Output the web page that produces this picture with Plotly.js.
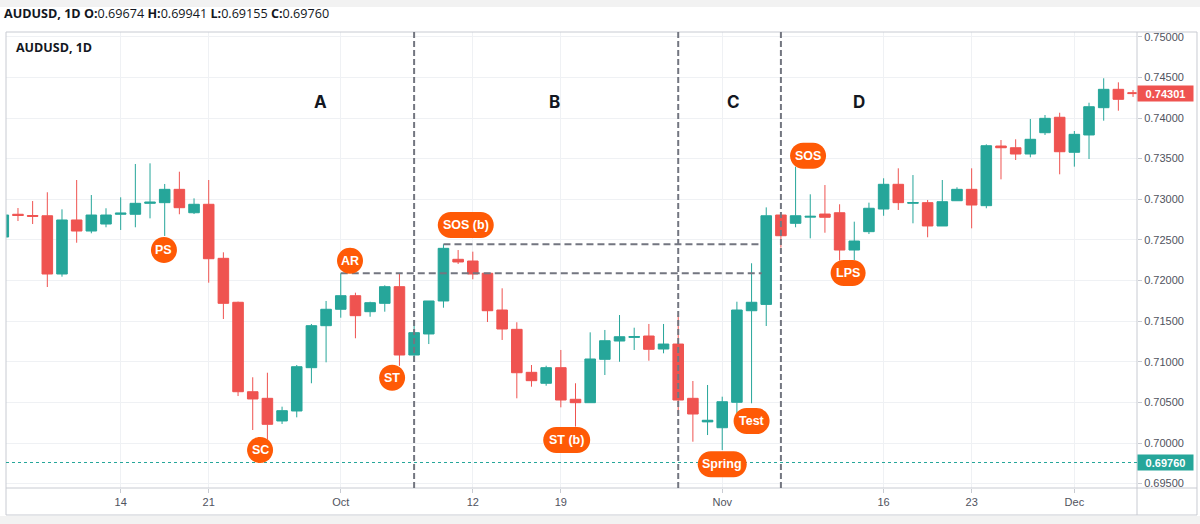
<!DOCTYPE html>
<html>
<head>
<meta charset="utf-8">
<script src="https://cdn.plot.ly/plotly-3.0.1.min.js"></script>
<style>
  html, body { margin: 0; padding: 0; background: #ffffff; }
  #chart { width: 1200px; height: 524px; }
</style>
</head>
<body>
<div id="chart"></div>
<script>
// ---- Data ----
const barIndex = Array.from({length: 78}, (_, i) => i);
const openVals = [
  0.72535,0.72815,0.72800,0.72797,0.72080,0.72745,0.72609,0.72695,0.72815,0.72815,
  0.72950,0.72958,0.73122,0.72834,0.72938,0.72273,0.71732,0.70631,0.70550,0.70271,
  0.70394,0.70927,0.71444,0.71646,0.71813,0.71616,0.71719,0.71924,0.71083,0.71342,
  0.71748,0.72261,0.72240,0.72089,0.71637,0.71399,0.70870,0.70735,0.70927,0.70538,
  0.70496,0.71030,0.71255,0.71300,0.71317,0.71157,0.71218,0.70550,0.70260,0.70188,
  0.70501,0.71628,0.71706,0.72806,0.72704,0.72780,0.72818,0.72834,0.72375,0.72601,
  0.72880,0.73184,0.72950,0.72958,0.72671,0.72982,0.73122,0.72921,0.73655,0.73634,
  0.73557,0.73819,0.74009,0.73578,0.73791,0.74127,0.74353,0.74312
];
const highVals = [
  0.72830,0.72892,0.72978,0.73086,0.72876,0.73237,0.73052,0.72889,0.73024,0.73434,
  0.73442,0.73188,0.73339,0.73011,0.73237,0.72347,0.71740,0.70809,0.70865,0.70447,
  0.70960,0.71465,0.71748,0.72089,0.71850,0.71739,0.71941,0.72089,0.71514,0.71748,
  0.72446,0.72375,0.72355,0.72089,0.71904,0.71486,0.70960,0.70951,0.71145,0.70735,
  0.71362,0.71391,0.71575,0.71419,0.71465,0.71465,0.71575,0.70763,0.70714,0.70570,
  0.71739,0.72212,0.72900,0.72806,0.73401,0.73061,0.73175,0.72938,0.72724,0.72958,
  0.73258,0.73381,0.73298,0.72991,0.73237,0.73147,0.73381,0.73676,0.73729,0.73738,
  0.73988,0.74037,0.74065,0.73840,0.74188,0.74489,0.74439,0.74345
];
const lowVals = [
  0.72480,0.72732,0.72695,0.71920,0.72047,0.72465,0.72581,0.72655,0.72622,0.72655,
  0.72765,0.72548,0.72815,0.72818,0.71973,0.71526,0.70578,0.70160,0.70040,0.70234,
  0.70316,0.70735,0.70993,0.71542,0.71289,0.71554,0.71616,0.70950,0.71000,0.71218,
  0.71665,0.72203,0.72015,0.71489,0.71268,0.70550,0.70693,0.70705,0.70439,0.70201,
  0.70496,0.70837,0.71000,0.71145,0.71013,0.71104,0.70366,0.70016,0.70098,0.69914,
  0.70366,0.70489,0.71440,0.72404,0.72655,0.72519,0.72588,0.72244,0.72252,0.72572,
  0.72797,0.72868,0.72704,0.72532,0.72671,0.72982,0.72642,0.72889,0.73245,0.73483,
  0.73516,0.73791,0.73307,0.73401,0.73495,0.73967,0.74090,0.74260
];
const closeVals = [
  0.72806,0.72800,0.72790,0.72080,0.72745,0.72609,0.72806,0.72806,0.72830,0.72950,
  0.72965,0.73122,0.72896,0.72938,0.72268,0.71719,0.70631,0.70542,0.70230,0.70398,
  0.70939,0.71444,0.71646,0.71813,0.71567,0.71727,0.71924,0.71083,0.71358,0.71748,
  0.72396,0.72228,0.72080,0.71628,0.71403,0.70865,0.70767,0.70927,0.70529,0.70496,
  0.71034,0.71259,0.71308,0.71310,0.71153,0.71218,0.70529,0.70357,0.70280,0.70508,
  0.71637,0.71732,0.72797,0.72551,0.72797,0.72790,0.72778,0.72375,0.72486,0.72889,
  0.73184,0.72958,0.72960,0.72671,0.72970,0.73122,0.72929,0.73659,0.73634,0.73557,
  0.73738,0.73996,0.73585,0.73799,0.74139,0.74353,0.74230,0.74301
];

// x-axis ticks (bar index -> label)
const tickIndex = [8, 14, 23, 32, 38, 49, 60, 66, 73];
const tickLabels = ["14", "21", "Oct", "12", "19", "Nov", "16", "23", "Dec"];

// price axis ticks
const priceTicks = [0.695,0.700,0.705,0.710,0.715,0.720,0.725,0.730,0.735,0.740,0.745,0.750];

// Wyckoff phases
const phaseBounds = [28, 46, 53];
const phaseLetters = ["A", "B", "C", "D"];
const phaseLetterX = [21.64, 37.6, 49.8, 58.33];
const phaseLetterY = 0.74197;

// horizontal levels: AR high and SOS(b) high
const levelValues = [0.72089, 0.72446];
const levelStart = [23, 30];
const levelEnd = [51.7, 51.7];

// event labels
const eventText = ["PS", "AR", "SC", "ST", "SOS (b)", "ST (b)", "Spring", "Test", "SOS", "LPS"];
const eventX = [10.95, 23.63, 17.5, 26.5, 31.52, 38.4, 49.0, 51.0, 54.85, 57.58];
const eventY = [0.72375, 0.72244, 0.69914, 0.70804, 0.72683, 0.70037, 0.69738, 0.70271, 0.73536, 0.72092];
const eventW = [26, 26, 26, 26, 56, 47, 49, 36, 36, 35];

// header / price markers
const symbolText = "AUDUSD, 1D";
const ohlcText = ["O:", "0.69674", "H:", "0.69941", "L:", "0.69155", "C:", "0.69760"];
const lastPrice = 0.74301;
const markPrice = 0.69760;

// ---- Styles ----
const UP = "#26a69a", DOWN = "#ef5350", ORANGE = "#ff5a06";
const GRID = "#eff1f4", BORDER = "#c8cbd2", AXTXT = "#50535e";

function pillPath(w, h) {
  const r = h / 2, k = 0.5523 * r;
  const a = w / 2 - r;
  if (a <= 0) {
    return `M ${-r},0 C ${-r},${k} ${-k},${r} 0,${r} C ${k},${r} ${r},${k} ${r},0 C ${r},${-k} ${k},${-r} 0,${-r} C ${-k},${-r} ${-r},${-k} ${-r},0 Z`;
  }
  return `M ${-a},${-r} L ${a},${-r} C ${a + k},${-r} ${w/2},${-k} ${w/2},0 C ${w/2},${k} ${a + k},${r} ${a},${r} ` +
         `L ${-a},${r} C ${-a - k},${r} ${-w/2},${k} ${-w/2},0 C ${-w/2},${-k} ${-a - k},${-r} ${-a},${-r} Z`;
}

const shapes = [];
const annotations = [];

// page strips (top and bottom gray bands)
shapes.push({type: "rect", xref: "paper", yref: "paper", x0: -0.01, x1: 1.06, y0: 1.0548, y1: 1.08,
  fillcolor: "#f2f2f2", line: {width: 0}, layer: "below"});
shapes.push({type: "rect", xref: "paper", yref: "paper", x0: -0.01, x1: 1.06, y0: -0.0614, y1: -0.09,
  fillcolor: "#f2f2f2", line: {width: 0}, layer: "below"});
// outer frame
shapes.push({type: "rect", xref: "paper", yref: "paper", x0: 0, x1: 1.05305, y0: -0.05921, y1: 1,
  line: {color: BORDER, width: 1}, fillcolor: "rgba(0,0,0,0)"});
// separators
shapes.push({type: "line", xref: "paper", yref: "paper", x0: 1, x1: 1, y0: -0.05921, y1: 1,
  line: {color: BORDER, width: 1}});
shapes.push({type: "line", xref: "paper", yref: "paper", x0: 0, x1: 1.05305, y0: 0, y1: 0,
  line: {color: BORDER, width: 1}});

// mark price dotted line
shapes.push({type: "line", xref: "paper", yref: "y", x0: 0, x1: 1, y0: markPrice, y1: markPrice,
  line: {color: UP, width: 1, dash: "dot"}});

// phase boundary dashed lines
phaseBounds.forEach(b => shapes.push({type: "line", xref: "x", yref: "paper", x0: b, x1: b, y0: 0, y1: 1,
  line: {color: "#737680", width: 2, dash: "6px,3px"}}));
// level lines
levelValues.forEach((v, i) => shapes.push({type: "line", xref: "x", yref: "y",
  x0: levelStart[i], x1: levelEnd[i], y0: v, y1: v,
  line: {color: "#737680", width: 2, dash: "7px,4px"}}));

// event pills
eventText.forEach((t, i) => {
  shapes.push({type: "path", xref: "x", yref: "y", xsizemode: "pixel", ysizemode: "pixel",
    xanchor: eventX[i], yanchor: eventY[i], path: pillPath(eventW[i], 26),
    fillcolor: ORANGE, line: {width: 0}});
  annotations.push({x: eventX[i], y: eventY[i], xref: "x", yref: "y", text: "<b>" + t + "</b>",
    showarrow: false, font: {family: "Liberation Sans, Arial, sans-serif", size: 12.5, color: "#ffffff"}});
});

// phase letters
phaseLetters.forEach((t, i) => annotations.push({x: phaseLetterX[i], y: phaseLetterY, xref: "x", yref: "y",
  text: "<b>" + t + "</b>", showarrow: false,
  font: {family: "Inter, Liberation Sans, sans-serif", size: 17, color: "#131722"}}));

// header
let hdr = "<b>" + symbolText + "</b>";
for (let i = 0; i < ohlcText.length; i += 2) hdr += " <b>" + ohlcText[i] + "</b>" + ohlcText[i + 1];
annotations.push({xref: "paper", yref: "paper", x: -0.0035, y: 1.0395, xanchor: "left", yanchor: "middle",
  text: hdr, showarrow: false, font: {family: "Open Sans, Noto Sans, sans-serif", size: 12.6, color: "#131722"}});
annotations.push({xref: "paper", yref: "paper", x: 0.0075, y: 0.9665, xanchor: "left", yanchor: "middle",
  text: "<b>" + symbolText + "</b>", showarrow: false,
  font: {family: "Open Sans, Noto Sans, sans-serif", size: 12.5, color: "#131722"}});

// price boxes on the axis
[[lastPrice, DOWN], [markPrice, UP]].forEach(([p, c]) => annotations.push({
  xref: "paper", yref: "y", x: 1, y: p, xanchor: "left", yanchor: "middle",
  text: "<b>" + p.toFixed(5) + "</b>", showarrow: false, bgcolor: c, width: 53, height: 13, borderpad: 1,
  align: "center", font: {family: "Liberation Sans, Arial, sans-serif", size: 11, color: "#ffffff"}}));

const trace = {
  type: "candlestick",
  x: barIndex, open: openVals, high: highVals, low: lowVals, close: closeVals,
  increasing: {line: {color: UP, width: 1}, fillcolor: UP},
  decreasing: {line: {color: DOWN, width: 1}, fillcolor: DOWN},
  whiskerwidth: 0,
  hoverinfo: "skip", showlegend: false
};

const layout = {
  width: 1200, height: 524,
  margin: {l: 6, r: 63, t: 32, b: 36, pad: 0},
  paper_bgcolor: "#ffffff", plot_bgcolor: "#ffffff",
  showlegend: false, hovermode: false,
  boxgap: 0.28, boxgroupgap: 0,
  xaxis: {
    range: [0.184, 77.27], rangeslider: {visible: false},
    tickmode: "array", tickvals: tickIndex, ticktext: tickLabels,
    showgrid: true, gridcolor: GRID, gridwidth: 1, zeroline: false, showline: false,
    ticks: "outside", ticklen: 4, tickcolor: BORDER,
    tickfont: {family: "Liberation Sans, Arial, sans-serif", size: 11, color: AXTXT},
    fixedrange: true
  },
  yaxis: {
    range: [0.694462, 0.750585], side: "right",
    tickmode: "array", tickvals: priceTicks, ticktext: priceTicks.map(v => v.toFixed(5)),
    showgrid: true, gridcolor: GRID, gridwidth: 1, zeroline: false, showline: false,
    ticks: "outside", ticklen: 4, tickcolor: BORDER,
    tickfont: {family: "Liberation Sans, Arial, sans-serif", size: 11, color: AXTXT},
    fixedrange: true
  },
  shapes: shapes,
  annotations: annotations
};

Plotly.newPlot("chart", [trace], layout, {displayModeBar: false, staticPlot: true});
</script>
</body>
</html>
